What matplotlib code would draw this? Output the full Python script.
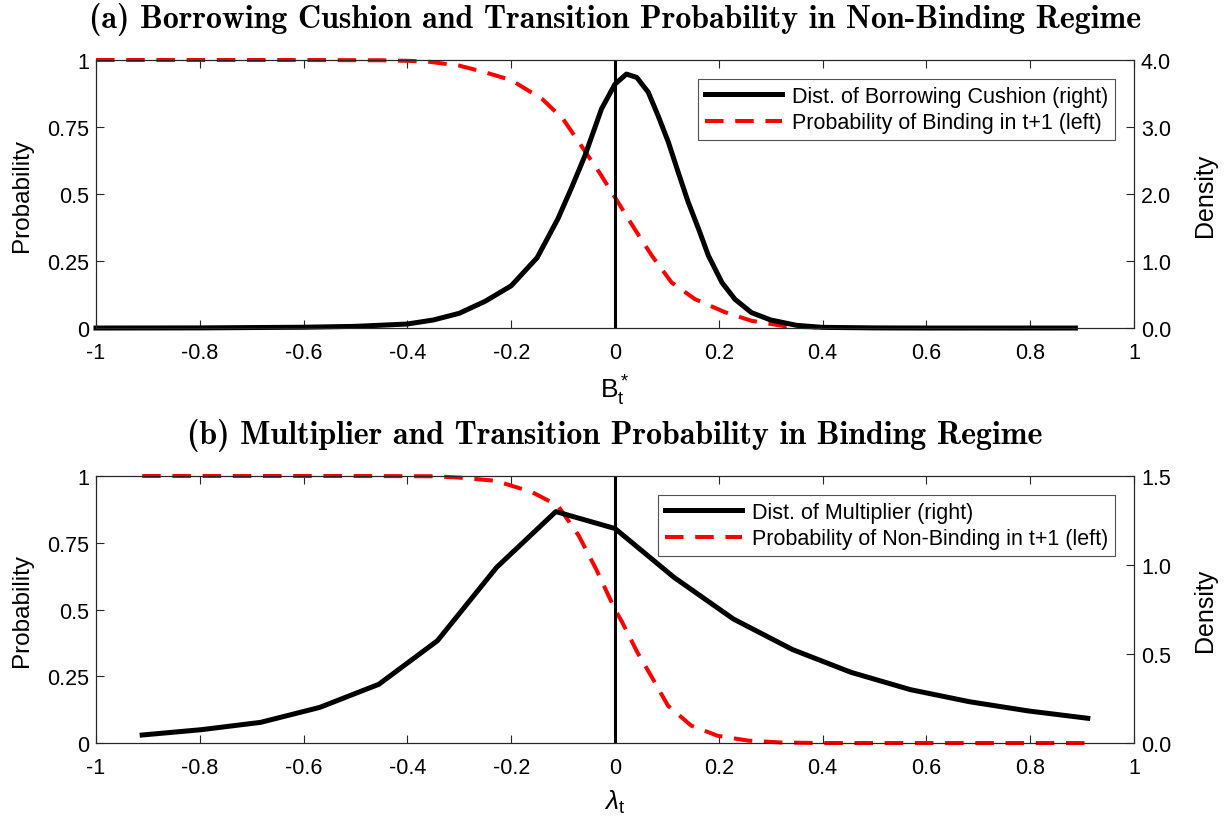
import numpy as np
import matplotlib
matplotlib.use('Agg')
import matplotlib.pyplot as plt

plt.rcParams['font.family'] = ['Liberation Sans', 'DejaVu Sans']
plt.rcParams['mathtext.fontset'] = 'custom'
plt.rcParams['mathtext.rm'] = 'Liberation Sans'
plt.rcParams['mathtext.it'] = 'Liberation Sans:italic'

# panel (a): borrowing cushion
xa_dens = [-1.0, -0.8, -0.6, -0.5, -0.4, -0.35, -0.3, -0.25, -0.2, -0.15, -0.11, -0.085,
           -0.058, -0.026, 0.0, 0.022, 0.042, 0.064, 0.083, 0.103, 0.122, 0.141, 0.161,
           0.18, 0.206, 0.231, 0.263, 0.3, 0.35, 0.4, 0.5, 0.6, 0.7, 0.887]
dens_a = [0.0, 0.002, 0.012, 0.025, 0.06, 0.12, 0.22, 0.4, 0.63, 1.05, 1.63, 2.07,
          2.57, 3.27, 3.64, 3.79, 3.74, 3.52, 3.17, 2.77, 2.32, 1.88, 1.48,
          1.08, 0.68, 0.43, 0.23, 0.12, 0.04, 0.01, 0.002, 0.0, 0.0, 0.0]
xa_prob = [-1.0, -0.6, -0.45, -0.4, -0.36, -0.3, -0.25, -0.2, -0.14, -0.1, -0.065,
           -0.03, 0.006, 0.038, 0.071, 0.109, 0.154, 0.212, 0.263, 0.33, 0.4, 0.5, 0.887]
prob_a = [1.0, 1.0, 0.999, 0.997, 0.994, 0.979, 0.954, 0.925, 0.854, 0.78, 0.68,
          0.58, 0.469, 0.369, 0.27, 0.17, 0.108, 0.059, 0.027, 0.006, 0.001, 0.0, 0.0]

# panel (b): multiplier
xb_dens = [-0.911, -0.797, -0.683, -0.569, -0.455, -0.342, -0.228, -0.114, 0.0,
           0.114, 0.228, 0.342, 0.455, 0.569, 0.683, 0.797, 0.911]
dens_b = [0.045, 0.075, 0.116, 0.20, 0.33, 0.575, 0.987, 1.30, 1.205,
          0.93, 0.697, 0.525, 0.397, 0.30, 0.232, 0.18, 0.139]
xb_prob = [-0.911, -0.5, -0.35, -0.3, -0.23, -0.16, -0.11, -0.07, -0.036, 0.0, 0.014,
           0.043, 0.073, 0.102, 0.147, 0.198, 0.257, 0.32, 0.4, 0.911]
prob_b = [1.0, 1.0, 0.999, 0.994, 0.982, 0.94, 0.889, 0.777, 0.65, 0.5, 0.452,
          0.34, 0.24, 0.14, 0.065, 0.027, 0.009, 0.002, 0.0, 0.0]

xticks = [-1, -0.8, -0.6, -0.4, -0.2, 0, 0.2, 0.4, 0.6, 0.8, 1]
xticklabels = ['-1', '-0.8', '-0.6', '-0.4', '-0.2', '0', '0.2', '0.4', '0.6', '0.8', '1']
pticks = [0, 0.25, 0.5, 0.75, 1]
pticklabels = ['0', '0.25', '0.5', '0.75', '1']

fig = plt.figure(figsize=(12.29, 8.29), dpi=100)
fs = 15.5
dash = (0, (4.6, 2.9))


def panel(rect, xd, yd, xp, yp, dticks, dlabels, dmax, title, xlabel, leg):
    ax = fig.add_axes(rect)
    ax2 = ax.twinx()
    ax.plot(xp, yp, color='r', ls=dash, lw=2.9, clip_on=False)
    ax2.plot(xd, yd, color='k', lw=3.6, label=leg[0], clip_on=False)
    ax2.plot([], [], color='r', ls=dash, lw=2.9, label=leg[1])
    ax.axvline(0, color='k', lw=2.2)
    ax.set_xlim(-1, 1)
    ax.set_ylim(0, 1)
    ax2.set_ylim(0, dmax)
    ax.set_xticks(xticks)
    ax.set_xticklabels(xticklabels)
    ax.set_yticks(pticks)
    ax.set_yticklabels(pticklabels)
    ax2.set_yticks(dticks)
    ax2.set_yticklabels(dlabels)
    for a in (ax, ax2):
        a.tick_params(direction='in', length=6, width=0.8, labelsize=fs, color='0.15', pad=5)
        for s in a.spines.values():
            s.set_color('0.15')
            s.set_linewidth(0.8)
    ax.tick_params(axis='x', top=True, pad=10)
    ax.set_ylabel('Probability', fontsize=17.5, labelpad=10)
    ax2.set_ylabel('Density', fontsize=18, labelpad=16)
    ax.set_xlabel(xlabel, fontsize=19, labelpad=7)
    ax.set_title(title, fontfamily='cmb10', fontsize=23, pad=24)
    lg = ax2.legend(loc='upper right', fontsize=fs, frameon=True, fancybox=False,
                    edgecolor='0.15', handlelength=3.6, borderaxespad=0.9,
                    borderpad=0.3, labelspacing=0.25, handletextpad=0.45)
    lg.get_frame().set_linewidth(0.8)
    return ax, ax2


panel([0.0781, 0.6031, 0.8446, 0.3233], xa_dens, dens_a, xa_prob, prob_a,
      [0, 1, 2, 3, 4], ['0.0', '1.0', '2.0', '3.0', '4.0'], 4,
      '(a) Borrowing Cushion and Transition Probability in Non-Binding Regime',
      r'$\mathregular{B_t^*}$',
      ['Dist. of Borrowing Cushion (right)', 'Probability of Binding in t+1 (left)'])

panel([0.0781, 0.1025, 0.8446, 0.3221], xb_dens, dens_b, xb_prob, prob_b,
      [0, 0.5, 1.0, 1.5], ['0.0', '0.5', '1.0', '1.5'], 1.5,
      '(b) Multiplier and Transition Probability in Binding Regime',
      r'$\lambda_\mathregular{t}$',
      ['Dist. of Multiplier (right)', 'Probability of Non-Binding in t+1 (left)'])

fig.savefig('out.png', dpi=100)
